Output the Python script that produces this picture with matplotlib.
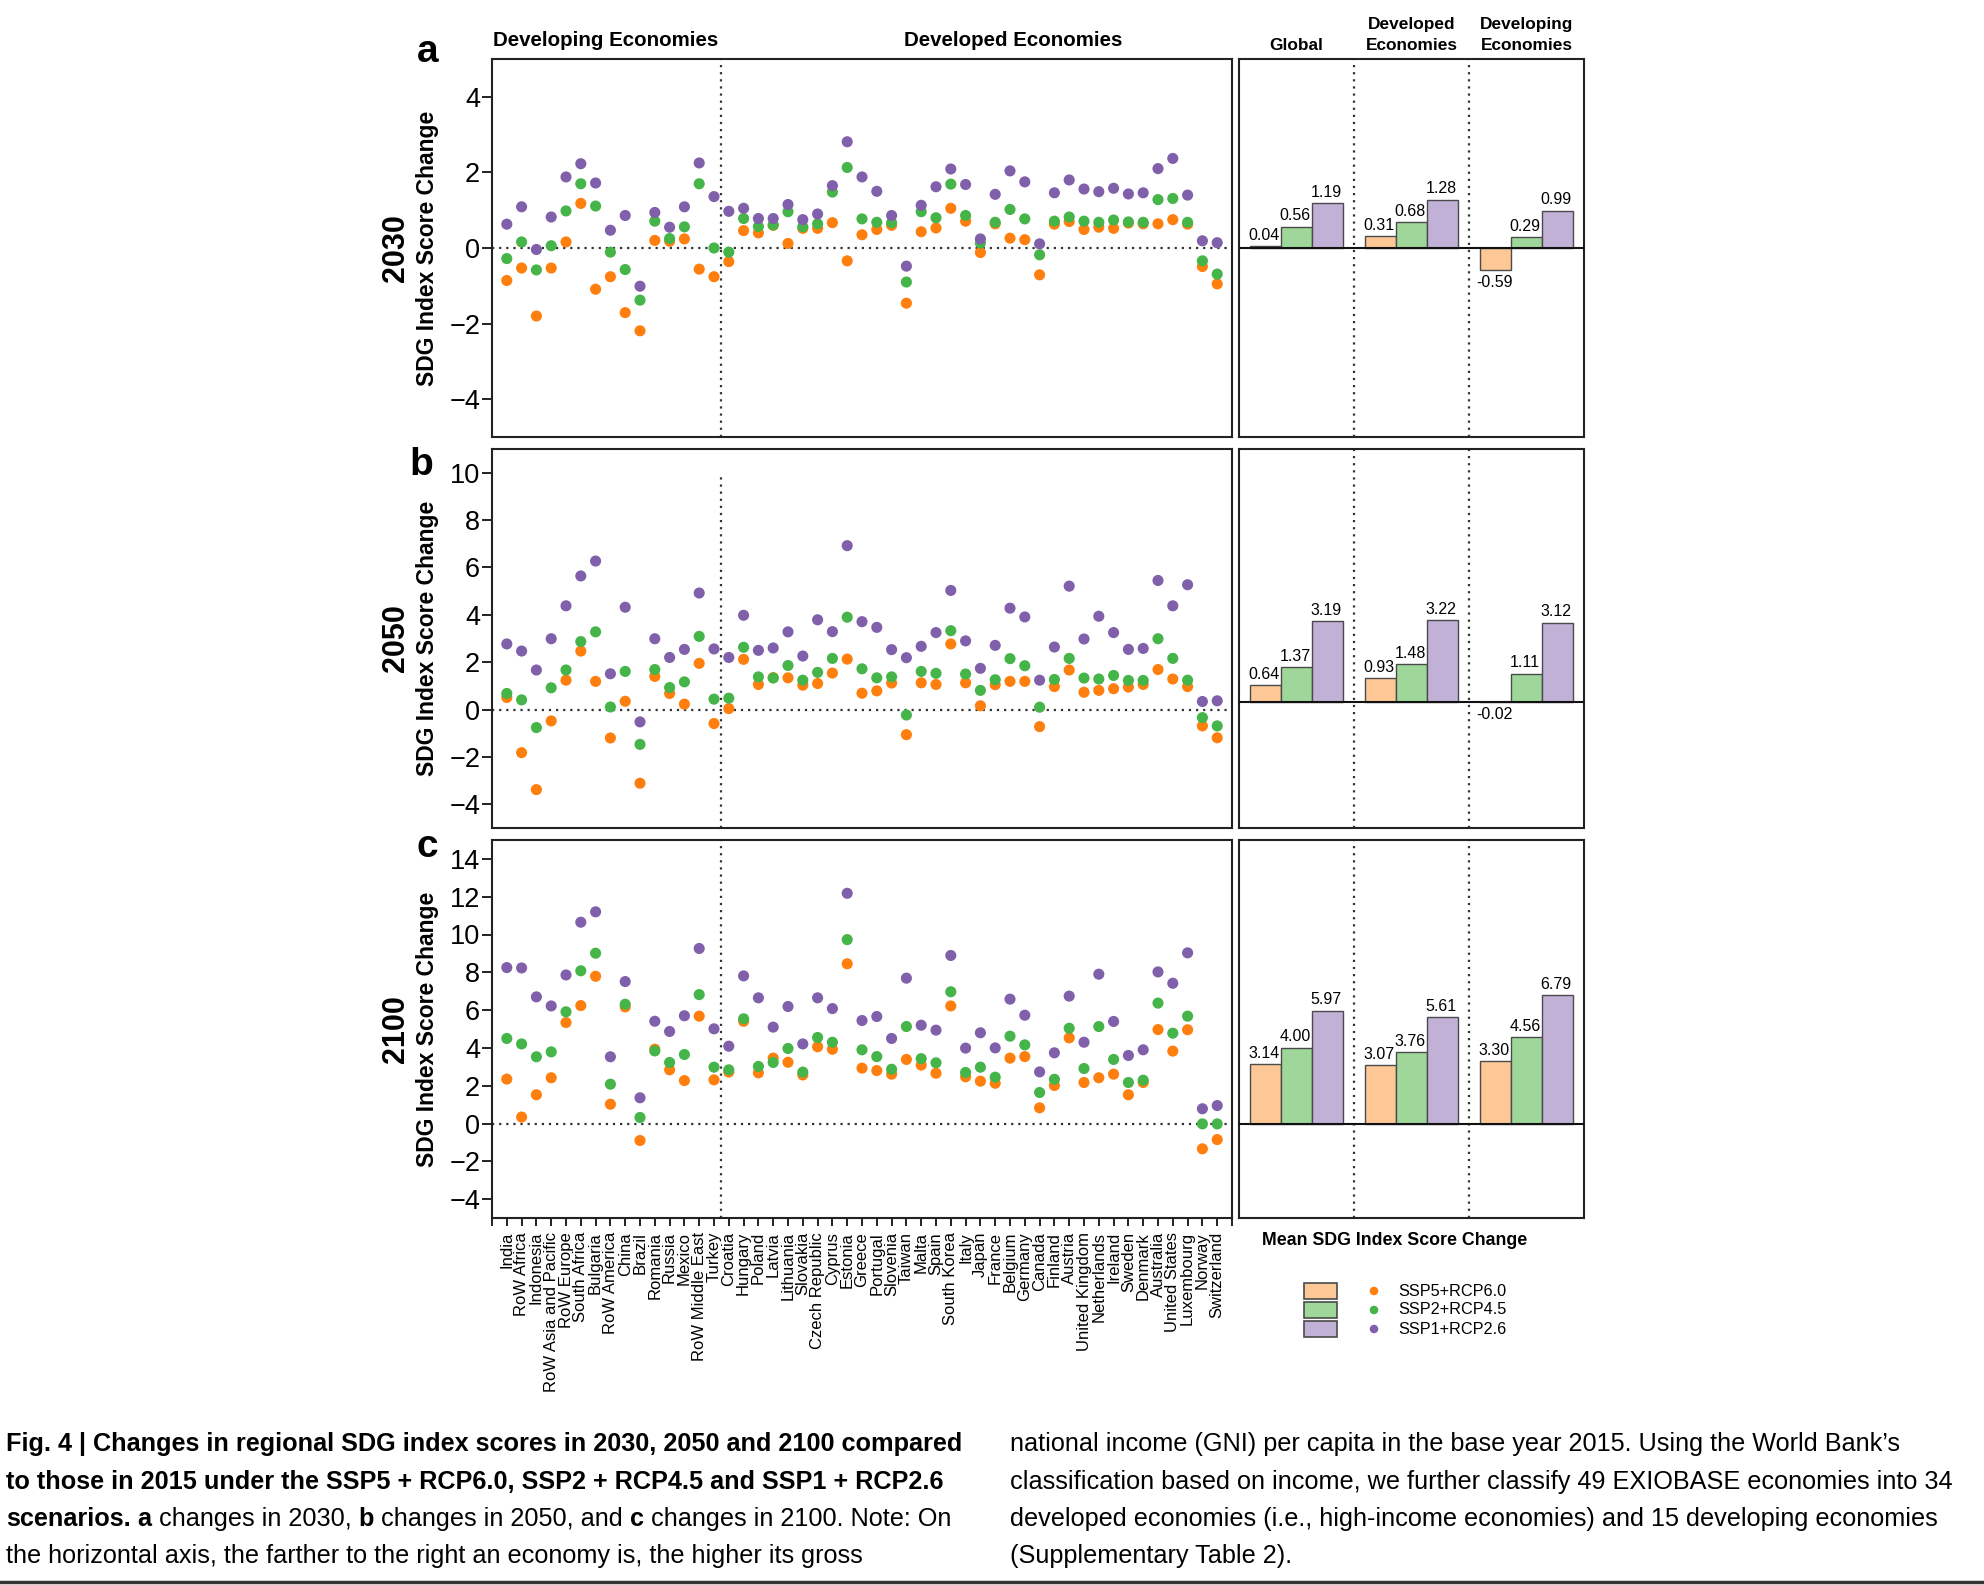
import matplotlib
matplotlib.use('Agg')
import matplotlib.pyplot as plt
from matplotlib.patches import Rectangle
from matplotlib.lines import Line2D
from matplotlib.transforms import blended_transform_factory
import numpy as np

plt.rcParams['font.family'] = ['Liberation Sans', 'DejaVu Sans']
plt.rcParams['axes.unicode_minus'] = True

# ---------------- data ----------------
countries = ["India", "RoW Africa", "Indonesia", "RoW Asia and Pacific", "RoW Europe",
             "South Africa", "Bulgaria", "RoW America", "China", "Brazil", "Romania",
             "Russia", "Mexico", "RoW Middle East", "Turkey", "Croatia", "Hungary",
             "Poland", "Latvia", "Lithuania", "Slovakia", "Czech Republic", "Cyprus",
             "Estonia", "Greece", "Portugal", "Slovenia", "Taiwan", "Malta", "Spain",
             "South Korea", "Italy", "Japan", "France", "Belgium", "Germany", "Canada",
             "Finland", "Austria", "United Kingdom", "Netherlands", "Ireland", "Sweden",
             "Denmark", "Australia", "United States", "Luxembourg", "Norway", "Switzerland"]
n_developing = 15

scenarios = ["SSP5+RCP6.0", "SSP2+RCP4.5", "SSP1+RCP2.6"]
years = ["2030", "2050", "2100"]
panel_letters = ["a", "b", "c"]

ssp5_2030 = [-0.86, -0.53, -1.80, -0.53, 0.16, 1.18, -1.09, -0.76, -1.71, -2.19, 0.20, 0.18, 0.24, -0.56, -0.76,
             -0.36, 0.46, 0.40, 0.60, 0.12, 0.52, 0.52, 0.67, -0.34, 0.35, 0.49, 0.60, -1.46, 0.43, 0.53, 1.05,
             0.71, -0.12, 0.64, 0.26, 0.22, -0.71, 0.63, 0.70, 0.49, 0.55, 0.52, 0.66, 0.64, 0.64, 0.75, 0.63,
             -0.49, -0.95]
ssp2_2030 = [-0.28, 0.16, -0.58, 0.06, 0.98, 1.70, 1.11, -0.11, -0.57, -1.38, 0.71, 0.25, 0.56, 1.70, 0.00,
             -0.11, 0.78, 0.57, 0.61, 0.96, 0.56, 0.64, 1.48, 2.13, 0.77, 0.68, 0.67, -0.90, 0.96, 0.80, 1.69,
             0.86, 0.13, 0.68, 1.02, 0.77, -0.18, 0.71, 0.82, 0.71, 0.68, 0.74, 0.69, 0.68, 1.28, 1.31, 0.68,
             -0.34, -0.69]
ssp1_2030 = [0.63, 1.09, -0.04, 0.82, 1.88, 2.23, 1.72, 0.47, 0.86, -1.01, 0.94, 0.55, 1.09, 2.25, 1.36,
             0.97, 1.05, 0.78, 0.78, 1.15, 0.75, 0.90, 1.65, 2.81, 1.88, 1.50, 0.86, -0.48, 1.13, 1.62, 2.09,
             1.68, 0.24, 1.42, 2.04, 1.75, 0.11, 1.46, 1.80, 1.56, 1.49, 1.58, 1.43, 1.46, 2.10, 2.37, 1.40,
             0.19, 0.14]

ssp5_2050 = [0.51, -1.82, -3.38, -0.48, 1.24, 2.47, 1.19, -1.20, 0.35, -3.11, 1.40, 0.68, 0.23, 1.95, -0.59,
             0.04, 2.12, 1.06, 1.35, 1.34, 1.03, 1.10, 1.54, 2.13, 0.69, 0.79, 1.12, -1.06, 1.13, 1.06, 2.77,
             1.13, 0.16, 1.05, 1.19, 1.19, -0.72, 0.97, 1.67, 0.73, 0.81, 0.88, 0.95, 1.06, 1.69, 1.29, 0.97,
             -0.69, -1.19]
ssp2_2050 = [0.68, 0.41, -0.76, 0.92, 1.67, 2.87, 3.28, 0.11, 1.61, -1.47, 1.69, 0.93, 1.17, 3.09, 0.44,
             0.48, 2.63, 1.38, 1.33, 1.86, 1.24, 1.57, 2.16, 3.90, 1.72, 1.34, 1.38, -0.23, 1.61, 1.53, 3.33,
             1.50, 0.81, 1.26, 2.15, 1.85, 0.10, 1.27, 2.16, 1.33, 1.29, 1.44, 1.23, 1.23, 2.99, 2.16, 1.24,
             -0.34, -0.69]
ssp1_2050 = [2.77, 2.47, 1.67, 2.99, 4.38, 5.64, 6.27, 1.51, 4.32, -0.52, 2.99, 2.20, 2.54, 4.92, 2.56,
             2.20, 3.98, 2.50, 2.60, 3.28, 2.26, 3.79, 3.29, 6.92, 3.71, 3.47, 2.53, 2.19, 2.67, 3.25, 5.03,
             2.90, 1.74, 2.71, 4.28, 3.91, 1.24, 2.64, 5.21, 2.98, 3.94, 3.25, 2.54, 2.58, 5.45, 4.38, 5.27,
             0.34, 0.37]

ssp5_2100 = [2.35, 0.34, 1.52, 2.42, 5.34, 6.24, 7.79, 1.02, 6.17, -0.90, 3.93, 2.84, 2.27, 5.68, 2.31,
             2.72, 5.41, 2.68, 3.46, 3.24, 2.57, 4.06, 3.93, 8.45, 2.93, 2.80, 2.61, 3.39, 3.09, 2.66, 6.22,
             2.47, 2.24, 2.13, 3.46, 3.54, 0.83, 2.01, 4.53, 2.17, 2.42, 2.61, 1.52, 2.17, 4.97, 3.83, 4.96,
             -1.34, -0.85]
ssp2_2100 = [4.50, 4.21, 3.53, 3.79, 5.91, 8.08, 9.01, 2.08, 6.31, 0.32, 3.84, 3.23, 3.65, 6.82, 2.98,
             2.84, 5.54, 3.02, 3.23, 3.97, 2.72, 4.55, 4.30, 9.73, 3.90, 3.54, 2.87, 5.13, 3.43, 3.21, 6.97,
             2.70, 2.98, 2.45, 4.62, 4.16, 1.64, 2.34, 5.04, 2.91, 5.13, 3.39, 2.17, 2.29, 6.37, 4.78, 5.68,
             -0.02, -0.02]
ssp1_2100 = [8.25, 8.23, 6.70, 6.22, 7.86, 10.65, 11.20, 3.53, 7.51, 1.36, 5.41, 4.87, 5.70, 9.26, 5.01,
             4.09, 7.81, 6.65, 5.10, 6.19, 4.21, 6.65, 6.08, 12.18, 5.45, 5.66, 4.50, 7.69, 5.20, 4.94, 8.89,
             3.99, 4.80, 4.00, 6.58, 5.73, 2.73, 3.74, 6.74, 4.30, 7.90, 5.40, 3.60, 3.90, 8.02, 7.42, 9.03,
             0.78, 0.95]

bar_groups = ["Global", "Developed\nEconomies", "Developing\nEconomies"]
mean_2030 = {"SSP5+RCP6.0": [0.04, 0.31, -0.59], "SSP2+RCP4.5": [0.56, 0.68, 0.29], "SSP1+RCP2.6": [1.19, 1.28, 0.99]}
mean_2050 = {"SSP5+RCP6.0": [0.64, 0.93, -0.02], "SSP2+RCP4.5": [1.37, 1.48, 1.11], "SSP1+RCP2.6": [3.19, 3.22, 3.12]}
mean_2100 = {"SSP5+RCP6.0": [3.14, 3.07, 3.30], "SSP2+RCP4.5": [4.00, 3.76, 4.56], "SSP1+RCP2.6": [5.97, 5.61, 6.79]}

point_data = [
    {"SSP5+RCP6.0": ssp5_2030, "SSP2+RCP4.5": ssp2_2030, "SSP1+RCP2.6": ssp1_2030},
    {"SSP5+RCP6.0": ssp5_2050, "SSP2+RCP4.5": ssp2_2050, "SSP1+RCP2.6": ssp1_2050},
    {"SSP5+RCP6.0": ssp5_2100, "SSP2+RCP4.5": ssp2_2100, "SSP1+RCP2.6": ssp1_2100},
]
bar_data = [mean_2030, mean_2050, mean_2100]

left_ylims = [(-5, 5), (-5, 11), (-5, 15)]
left_yticks = [np.arange(-4, 5, 2), np.arange(-4, 11, 2), np.arange(-4, 15, 2)]
bar_ylims = [(-5, 5), (-5, 10), (-5, 15)]
vline_top = [None, 10, None]

dot_colors = {"SSP5+RCP6.0": "#FF7F0E", "SSP2+RCP4.5": "#45B449", "SSP1+RCP2.6": "#8060AB"}
bar_colors = {"SSP5+RCP6.0": "#FDC895", "SSP2+RCP4.5": "#9FD79A", "SSP1+RCP2.6": "#C2B1D6"}

# ---------------- layout helpers ----------------
W, H = 1984, 1585
DPI = 100
fig = plt.figure(figsize=(W / DPI, H / DPI), dpi=DPI)


def box(l, t, r, b):
    return [l / W, 1 - b / H, (r - l) / W, (b - t) / H]


def fx(px):
    return px / W


def fy(py):
    return 1 - py / H


rows = [(59, 437), (449, 828), (840, 1218)]
LEFT_L, LEFT_R = 492, 1232
BAR_L, BAR_R = 1239, 1584
SPINE = "#222222"
letter_pos = [(428, 62), (421, 475), (427, 857)]

x = np.arange(len(countries))

for r, (top, bot) in enumerate(rows):
    ax = fig.add_axes(box(LEFT_L, top, LEFT_R, bot))
    for s in scenarios:
        ax.scatter(x, point_data[r][s], s=64, color=dot_colors[s], edgecolors='none', zorder=3)
    ax.set_xlim(-1, len(countries))
    ax.set_ylim(*left_ylims[r])
    ax.set_yticks(left_yticks[r])
    ax.axhline(0, color='#333333', ls=(0, (1, 2.2)), lw=1.6, zorder=1)
    if vline_top[r] is None:
        ax.axvline(n_developing - 0.5, color='#333333', ls=(0, (1, 2.2)), lw=1.6, zorder=1)
    else:
        ax.vlines(n_developing - 0.5, left_ylims[r][0], vline_top[r], color='#333333',
                  ls=(0, (1, 2.2)), lw=1.6, zorder=1)
    for sp in ax.spines.values():
        sp.set_linewidth(1.5)
        sp.set_color(SPINE)
    ax.tick_params(axis='y', direction='out', length=7, width=1.4, labelsize=19.5, pad=1.5, color=SPINE)
    if r < 2:
        ax.tick_params(axis='x', bottom=False, labelbottom=False)
    else:
        ax.set_xticks(np.arange(-1, len(countries) + 1))
        ax.set_xticklabels([""] + countries + [""], rotation=90, fontsize=12, va='top', ha='center')
        ax.tick_params(axis='x', direction='out', length=6, width=1.4, pad=4, color=SPINE)

    # year and axis label
    yc = fy((top + bot) / 2)
    fig.text(fx(396), yc, years[r], rotation=90, ha='center', va='center', fontsize=22, weight='bold')
    fig.text(fx(427.5), yc, "SDG Index Score Change", rotation=90, ha='center', va='center',
             fontsize=16.5, weight='bold')
    lx, ly = letter_pos[r]
    fig.text(fx(lx), fy(ly), panel_letters[r], ha='center', va='baseline', fontsize=28, weight='bold')

    # bar panel
    bx = fig.add_axes(box(BAR_L, top, BAR_R, bot))
    bw = 0.27
    gx = np.arange(len(bar_groups)) + 0.5
    for k, s in enumerate(scenarios):
        vals = bar_data[r][s]
        pos = gx + (k - 1) * bw
        bx.bar(pos, vals, width=bw, color=bar_colors[s], edgecolor='#4a4a4a', linewidth=1.0, zorder=3)
        for px_, v in zip(pos, vals):
            if v >= 0:
                bx.annotate(f"{v:.2f}", xy=(px_, v), xytext=(-1, 2.5), textcoords='offset points',
                            ha='center', va='bottom', fontsize=11.5)
            else:
                bx.annotate(f"{v:.2f}", xy=(px_, v), xytext=(-1, -3.5), textcoords='offset points',
                            ha='center', va='top', fontsize=11.5)
    bx.set_xlim(0, len(bar_groups))
    bx.set_ylim(*bar_ylims[r])
    bx.axhline(0, color='#111111', lw=1.5, zorder=4)
    for d in range(1, len(bar_groups)):
        bx.axvline(d, color='#333333', ls=(0, (1, 2.2)), lw=1.6, zorder=1)
    bx.set_xticks([])
    bx.set_yticks([])
    for sp in bx.spines.values():
        sp.set_linewidth(1.5)
        sp.set_color(SPINE)

    if r == 0:
        tr = blended_transform_factory(bx.transData, fig.transFigure)
        for g, name in zip(gx, bar_groups):
            bx.text(g, fy(53), name, transform=tr, ha='center', va='bottom', fontsize=12.4,
                    weight='bold', linespacing=1.5, multialignment='center')

# group headers over the scatter panel
fig.text(fx(606), fy(40.5), "Developing Economies", ha='center', va='center', fontsize=14.8, weight='bold')
fig.text(fx(1013), fy(40.5), "Developed Economies", ha='center', va='center', fontsize=14.8, weight='bold')
fig.text(fx(1395), fy(1240.5), "Mean SDG Index Score Change", ha='center', va='center',
         fontsize=12.8, weight='bold')

# legend
lax = fig.add_axes(box(1290, 1270, 1560, 1350))
lax.set_xlim(1290, 1560)
lax.set_ylim(1350, 1270)
lax.axis('off')
for k, s in enumerate(scenarios):
    cy = 1291 + k * 19
    lax.add_patch(Rectangle((1304, cy - 8.3), 33, 16.7, facecolor=bar_colors[s], edgecolor='#4a4a4a', lw=1.2))
    lax.scatter([1374], [cy], s=38, color=dot_colors[s], edgecolors='none')
    lax.text(1398, cy, s, ha='left', va='center', fontsize=11.7)

# caption
renderer = fig.canvas.get_renderer()
cap_family = ['Liberation Sans Narrow', 'Liberation Sans', 'DejaVu Sans']
probe = fig.text(0, 0, "Fig. 4 | Changes in regional SDG index scores in 2030, 2050 and 2100 compared",
                 fontsize=10, weight='bold', family=cap_family)
pw = probe.get_window_extent(renderer).width
probe.remove()
cap_size = 10 * 960 / pw


def run_line(x0, ybase, parts):
    xp = x0
    for txt, wt in parts:
        t = fig.text(fx(xp), fy(ybase), txt, fontsize=cap_size, weight=wt, family=cap_family,
                     ha='left', va='baseline')
        xp += t.get_window_extent(renderer).width


cap_base = [1451, 1489, 1526, 1563]
left_lines = [
    [("Fig. 4 | Changes in regional SDG index scores in 2030, 2050 and 2100 compared", 'bold')],
    [("to those in 2015 under the SSP5 + RCP6.0, SSP2 + RCP4.5 and SSP1 + RCP2.6", 'bold')],
    [("scenarios.", 'bold'), (" ", 'normal'), ("a", 'bold'), (" changes in 2030, ", 'normal'), ("b", 'bold'),
     (" changes in 2050, and ", 'normal'), ("c", 'bold'), (" changes in 2100. Note: On", 'normal')],
    [("the horizontal axis, the farther to the right an economy is, the higher its gross", 'normal')],
]
right_lines = [
    [("national income (GNI) per capita in the base year 2015. Using the World Bank\u2019s", 'normal')],
    [("classification based on income, we further classify 49 EXIOBASE economies into 34", 'normal')],
    [("developed economies (i.e., high-income economies) and 15 developing economies", 'normal')],
    [("(Supplementary Table 2).", 'normal')],
]
for yb, parts in zip(cap_base, left_lines):
    run_line(6, yb, parts)
for yb, parts in zip(cap_base, right_lines):
    run_line(1010, yb, parts)

fig.add_artist(Line2D([0, 1], [fy(1582), fy(1582)], transform=fig.transFigure, color='#333333', lw=2.5))

fig.savefig("out.png", dpi=DPI)
